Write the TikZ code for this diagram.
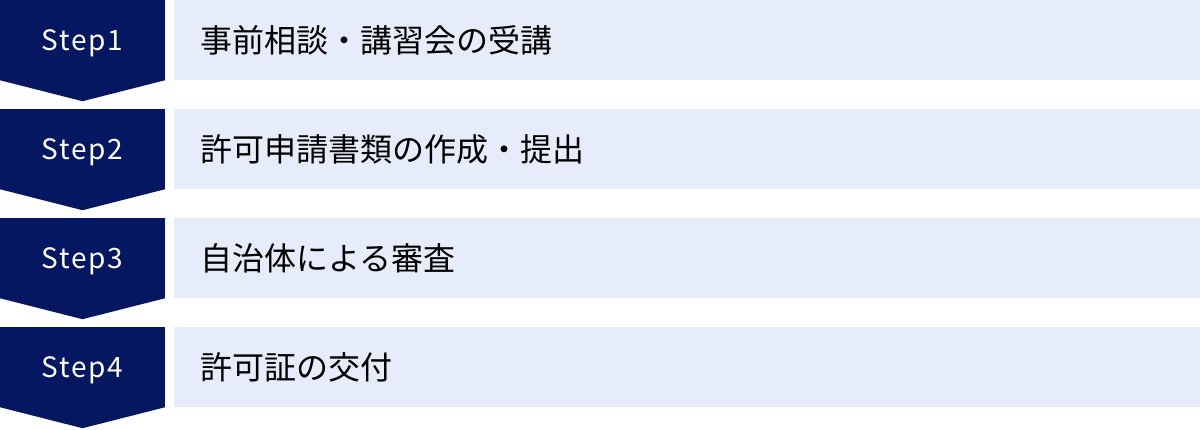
\documentclass[tikz,border=0pt]{standalone}
\usepackage{fontspec}
\setmainfont{Noto Sans}
\newfontfamily\jpfont{Noto Sans CJK JP}
\newfontfamily\stepfont[LetterSpace=6]{Noto Sans CJK JP}
\usetikzlibrary{calc, positioning}

\definecolor{stepnavy}{RGB}{4,23,96}
\definecolor{rowblue}{RGB}{230,236,249}

\begin{document}
\begin{tikzpicture}[
    x=1pt, y=-1pt,
    stepbox/.style={rectangle, fill=stepnavy, minimum width=165pt, minimum height=80pt, inner sep=0pt, text height=21pt, text depth=0pt, text=white, font=\stepfont\fontsize{28}{30}\selectfont},
    rowbox/.style={rectangle, fill=rowblue, minimum height=80pt, text width=974pt, inner xsep=26pt, inner ysep=0pt, align=left, font=\jpfont\fontsize{32}{34}\selectfont}
]
\useasboundingbox (0,0) rectangle (1200,429);

% Step markers
\node[stepbox] (s1) at (82.5,40) {Step1};
\node[stepbox] (s2) at (82.5,149) {Step2};
\node[stepbox] (s3) at (82.5,258) {Step3};
\node[stepbox] (s4) at (82.5,367) {Step4};

% Arrow tips below each marker
\fill[stepnavy] (s1.south west) -- (s1.south east) -- ($(s1.south)+(0,21)$) -- cycle;
\fill[stepnavy] (s2.south west) -- (s2.south east) -- ($(s2.south)+(0,21)$) -- cycle;
\fill[stepnavy] (s3.south west) -- (s3.south east) -- ($(s3.south)+(0,21)$) -- cycle;
\fill[stepnavy] (s4.south west) -- (s4.south east) -- ($(s4.south)+(0,21)$) -- cycle;

% Step contents
\node[rowbox, anchor=west] (r1) at (174,40) {事前相談・講習会の受講};
\node[rowbox, anchor=west] (r2) at (174,149) {許可申請書類の作成・提出};
\node[rowbox, anchor=west] (r3) at (174,258) {自治体による審査};
\node[rowbox, anchor=west] (r4) at (174,367) {許可証の交付};

\end{tikzpicture}
\end{document}
